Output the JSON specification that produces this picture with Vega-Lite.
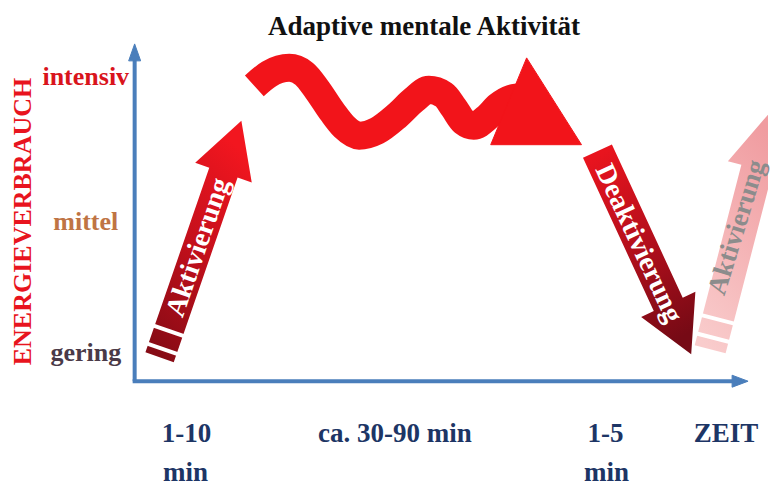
{
  "$schema": "https://vega.github.io/schema/vega-lite/v6.json",
  "width": 770,
  "height": 486,
  "padding": 0,
  "autosize": {"type": "fit", "contains": "padding"},
  "config": {"view": {"stroke": null}},
  "datasets": {
    "axes": [
      {"g": "y", "x": 135, "y": 382}, {"g": "y", "x": 135, "y": 58},
      {"g": "x", "x": 133, "y": 382}, {"g": "x", "x": 737, "y": 382}
    ],
    "heads": [
      {"s": "y", "i": 0, "x": 135, "y": 44}, {"s": "y", "i": 1, "x": 129, "y": 61}, {"s": "y", "i": 2, "x": 141, "y": 61},
      {"s": "x", "i": 0, "x": 750, "y": 382}, {"s": "x", "i": 1, "x": 734, "y": 376}, {"s": "x", "i": 2, "x": 734, "y": 388}
    ],
    "akt1": [
      {"i": 0, "x": 145.8, "y": 353.1}, {"i": 1, "x": 174.2, "y": 362.9}, {"i": 2, "x": 238.2, "y": 177.9},
      {"i": 3, "x": 252.4, "y": 182.8}, {"i": 4, "x": 242, "y": 121}, {"i": 5, "x": 195.7, "y": 163.2},
      {"i": 6, "x": 209.8, "y": 168.1}
    ],
    "akt2": [
      {"i": 0, "x": 696.5, "y": 346}, {"i": 1, "x": 727.5, "y": 354}, {"i": 2, "x": 774.3, "y": 173},
      {"i": 3, "x": 787.8, "y": 176.5}, {"i": 4, "x": 772.5, "y": 112}, {"i": 5, "x": 729.8, "y": 161.5},
      {"i": 6, "x": 743.3, "y": 165}
    ],
    "deakt": [
      {"i": 0, "x": 584.5, "y": 158.2}, {"i": 1, "x": 613.5, "y": 144.8}, {"i": 2, "x": 684.5, "y": 298.3},
      {"i": 3, "x": 697.2, "y": 292.4}, {"i": 4, "x": 693, "y": 355}, {"i": 5, "x": 642.8, "y": 317.6},
      {"i": 6, "x": 655.5, "y": 311.7}
    ],
    "wave": [
      {"i": 0, "x": 255, "y": 86}, {"i": 1, "x": 270, "y": 74}, {"i": 2, "x": 290, "y": 68}, {"i": 3, "x": 305, "y": 74},
      {"i": 4, "x": 318, "y": 90}, {"i": 5, "x": 333, "y": 112}, {"i": 6, "x": 345, "y": 127}, {"i": 7, "x": 360, "y": 136},
      {"i": 8, "x": 378, "y": 131}, {"i": 9, "x": 398, "y": 116}, {"i": 10, "x": 415, "y": 100}, {"i": 11, "x": 430, "y": 90},
      {"i": 12, "x": 445, "y": 95}, {"i": 13, "x": 455, "y": 108}, {"i": 14, "x": 465, "y": 122}, {"i": 15, "x": 475, "y": 126},
      {"i": 16, "x": 488, "y": 118}, {"i": 17, "x": 500, "y": 106}, {"i": 18, "x": 512, "y": 99}, {"i": 19, "x": 525, "y": 97}
    ],
    "tri": [
      {"i": 0, "x": 528, "y": 58}, {"i": 1, "x": 583, "y": 145}, {"i": 2, "x": 492, "y": 145}
    ],
    "stripes": [
      {"s": "a", "x": 144.0, "y": 343.0}, {"s": "a", "x": 181.8, "y": 356.0},
      {"s": "b", "x": 150.3, "y": 325.0}, {"s": "b", "x": 188.1, "y": 338.0},
      {"s": "c", "x": 695.6, "y": 333.4}, {"s": "c", "x": 734.4, "y": 343.4},
      {"s": "d", "x": 700.4, "y": 315.0}, {"s": "d", "x": 739.1, "y": 325.0}
    ]
  },
  "encoding": {
    "x": {"field": "x", "type": "quantitative", "scale": {"domain": [0, 770], "nice": false, "zero": false}, "axis": null},
    "y": {"field": "y", "type": "quantitative", "scale": {"domain": [0, 486], "nice": false, "zero": false, "reverse": true}, "axis": null}
  },
  "layer": [
    {
      "data": {"name": "axes"},
      "mark": {"type": "line", "stroke": "#4a7ebb", "strokeWidth": 4, "strokeCap": "butt"},
      "encoding": {"detail": {"field": "g"}}
    },
    {
      "data": {"name": "heads"},
      "mark": {"type": "line", "fill": "#4a7ebb", "stroke": "#4a7ebb", "strokeWidth": 1, "interpolate": "linear-closed"},
      "encoding": {"detail": {"field": "s"}, "order": {"field": "i", "type": "quantitative"}}
    },
    {
      "data": {"name": "akt2"},
      "mark": {"type": "line", "clip": true, "interpolate": "linear-closed", "strokeWidth": 0,
        "fill": {"gradient": "linear", "x1": 0.2, "y1": 1, "x2": 0.6, "y2": 0,
          "stops": [{"offset": 0, "color": "#f9cccc"}, {"offset": 1, "color": "#f09ca0"}]}},
      "encoding": {"order": {"field": "i", "type": "quantitative"}}
    },
    {
      "data": {"name": "akt1"},
      "mark": {"type": "line", "interpolate": "linear-closed", "strokeWidth": 0,
        "fill": {"gradient": "linear", "x1": 0.2, "y1": 1, "x2": 0.6, "y2": 0,
          "stops": [{"offset": 0, "color": "#860b15"}, {"offset": 0.55, "color": "#c8101c"}, {"offset": 1, "color": "#f2161f"}]}},
      "encoding": {"order": {"field": "i", "type": "quantitative"}}
    },
    {
      "data": {"name": "deakt"},
      "mark": {"type": "line", "interpolate": "linear-closed", "strokeWidth": 0,
        "fill": {"gradient": "linear", "x1": 0.3, "y1": 0, "x2": 0.6, "y2": 1,
          "stops": [{"offset": 0, "color": "#e8141e"}, {"offset": 0.5, "color": "#b30f1c"}, {"offset": 1, "color": "#760a15"}]}},
      "encoding": {"order": {"field": "i", "type": "quantitative"}}
    },
    {
      "data": {"name": "stripes"},
      "mark": {"type": "line", "stroke": "white", "strokeWidth": 4, "strokeCap": "butt"},
      "encoding": {"detail": {"field": "s"}}
    },
    {
      "data": {"name": "wave"},
      "mark": {"type": "line", "stroke": "#f2141a", "strokeWidth": 28, "strokeCap": "butt", "strokeJoin": "round", "interpolate": "monotone"},
      "encoding": {"order": {"field": "i", "type": "quantitative"}}
    },
    {
      "data": {"name": "tri"},
      "mark": {"type": "line", "fill": "#f2141a", "stroke": "#f2141a", "strokeWidth": 1, "interpolate": "linear-closed"},
      "encoding": {"order": {"field": "i", "type": "quantitative"}}
    },
    {
      "data": {"values": [{"t": "Adaptive mentale Aktivität", "x": 425, "y": 35}]},
      "mark": {"type": "text", "font": "Liberation Serif", "fontWeight": "bold", "fontSize": 27, "fill": "#111111", "align": "center", "baseline": "alphabetic"},
      "encoding": {"text": {"field": "t"}}
    },
    {
      "data": {"values": [{"t": "ENERGIEVERBRAUCH", "x": 23, "y": 222}]},
      "mark": {"type": "text", "font": "Liberation Serif", "fontWeight": "bold", "fontSize": 26, "fill": "#e8141e", "align": "center", "baseline": "middle", "angle": 270},
      "encoding": {"text": {"field": "t"}}
    },
    {
      "data": {"values": [{"t": "intensiv", "x": 86, "y": 85}]},
      "mark": {"type": "text", "font": "Liberation Serif", "fontWeight": "bold", "fontSize": 26, "fill": "#d9141c", "align": "center", "baseline": "alphabetic"},
      "encoding": {"text": {"field": "t"}}
    },
    {
      "data": {"values": [{"t": "mittel", "x": 86, "y": 230}]},
      "mark": {"type": "text", "font": "Liberation Serif", "fontWeight": "bold", "fontSize": 26, "fill": "#bf7444", "align": "center", "baseline": "alphabetic"},
      "encoding": {"text": {"field": "t"}}
    },
    {
      "data": {"values": [{"t": "gering", "x": 86, "y": 362}]},
      "mark": {"type": "text", "font": "Liberation Serif", "fontWeight": "bold", "fontSize": 26, "fill": "#4a3a48", "align": "center", "baseline": "alphabetic"},
      "encoding": {"text": {"field": "t"}}
    },
    {
      "data": {"values": [
        {"t": "1-10", "x": 187, "y": 443}, {"t": "min", "x": 186, "y": 482},
        {"t": "ca. 30-90 min", "x": 396, "y": 443},
        {"t": "1-5", "x": 607, "y": 443}, {"t": "min", "x": 608, "y": 482},
        {"t": "ZEIT", "x": 728, "y": 443}
      ]},
      "mark": {"type": "text", "font": "Liberation Serif", "fontWeight": "bold", "fontSize": 27, "fill": "#1d3565", "align": "center", "baseline": "alphabetic"},
      "encoding": {"text": {"field": "t"}}
    },
    {
      "data": {"values": [{"t": "Aktivierung", "x": 199, "y": 248}]},
      "mark": {"type": "text", "font": "Liberation Serif", "fontWeight": "bold", "fontSize": 28, "fill": "white", "align": "center", "baseline": "middle", "angle": -71},
      "encoding": {"text": {"field": "t"}}
    },
    {
      "data": {"values": [{"t": "Deaktivierung", "x": 640, "y": 244}]},
      "mark": {"type": "text", "font": "Liberation Serif", "fontWeight": "bold", "fontSize": 28, "fill": "white", "align": "center", "baseline": "middle", "angle": 65},
      "encoding": {"text": {"field": "t"}}
    },
    {
      "data": {"values": [{"t": "Aktivierung", "x": 739, "y": 228}]},
      "mark": {"type": "text", "font": "Liberation Serif", "fontWeight": "bold", "fontSize": 27, "fill": "#8c8c8c", "align": "center", "baseline": "middle", "angle": -73},
      "encoding": {"text": {"field": "t"}}
    }
  ]
}
